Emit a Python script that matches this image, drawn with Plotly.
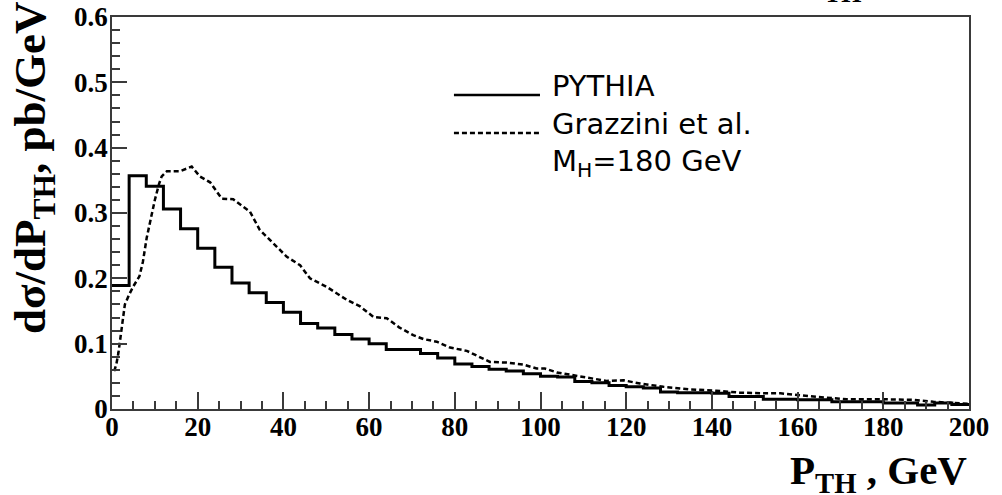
import plotly.graph_objects as go

# ---------------- data ----------------
bin_width = 4
bin_low = list(range(0, 200, bin_width))  # 50 bins from 0 to 200 GeV
pythia = [0.189, 0.357, 0.341, 0.306, 0.276, 0.246, 0.217, 0.193, 0.178, 0.163,
          0.148, 0.131, 0.124, 0.114, 0.107, 0.100, 0.091, 0.091, 0.085, 0.078,
          0.069, 0.065, 0.061, 0.058, 0.054, 0.050, 0.049, 0.042, 0.040, 0.036,
          0.034, 0.032, 0.026, 0.025, 0.025, 0.024, 0.019, 0.019, 0.015, 0.015,
          0.014, 0.014, 0.011, 0.011, 0.011, 0.009, 0.009, 0.006, 0.009, 0.007]

graz_x = [0.5, 1.0, 1.5, 2.0, 3.0, 4.0, 5.0, 6.4, 7.2, 8.1, 9.0, 10.0, 11.0, 11.6,
          12.8, 15.9, 18.6, 20.5, 22.9, 25.6, 28.3, 32.2, 34.5, 37.6, 40.8, 43.9,
          46.2, 50.1, 54.8, 57.9, 61.0, 64.1, 67.0, 70.3, 72.7, 75.8, 78.9, 82.8,
          85.9, 88.2, 92.1, 96.0, 99.1, 101.0, 103.8, 107.7, 111.5, 115.4, 119.3,
          123.2, 128.7, 135.0, 141.0, 146.5, 152.0, 156.0, 163.7, 171.5, 179.2,
          187.0, 191.7, 196.3, 200.0]
graz_y = [0.058, 0.068, 0.086, 0.110, 0.160, 0.175, 0.188, 0.203, 0.225, 0.262,
          0.290, 0.320, 0.345, 0.356, 0.364, 0.364, 0.371, 0.356, 0.347, 0.322,
          0.321, 0.302, 0.274, 0.254, 0.233, 0.220, 0.200, 0.187, 0.167, 0.157,
          0.141, 0.139, 0.125, 0.113, 0.107, 0.103, 0.094, 0.089, 0.079, 0.072,
          0.071, 0.068, 0.062, 0.062, 0.056, 0.052, 0.047, 0.043, 0.044, 0.039,
          0.034, 0.030, 0.028, 0.025, 0.024, 0.024, 0.019, 0.015, 0.015, 0.014,
          0.011, 0.0097, 0.008]

x_ticks = [0, 20, 40, 60, 80, 100, 120, 140, 160, 180, 200]
y_ticks = [0, 0.1, 0.2, 0.3, 0.4, 0.5, 0.6]
y_tick_text = ["0", "0.1", "0.2", "0.3", "0.4", "0.5", "0.6"]

series_names = ["PYTHIA", "Grazzini et al."]
mass_label = "M<sub>H</sub>=180 GeV"

# ---------------- figure ----------------
SERIF = "Liberation Serif"
SANS = "DejaVu Sans"
AX = "#3a3a3a"

hist_x = bin_low + [bin_low[-1] + bin_width]
hist_y = pythia + [pythia[-1]]

fig = go.Figure()
fig.add_trace(go.Scatter(x=hist_x, y=hist_y, mode="lines", line_shape="hv",
                         line=dict(color="black", width=3), name=series_names[0],
                         showlegend=False))
fig.add_trace(go.Scatter(x=graz_x, y=graz_y, mode="lines",
                         line=dict(color="black", width=2.5, dash="5px,3px"),
                         name=series_names[1], showlegend=False))

axis_common = dict(showline=True, linecolor=AX, linewidth=1.5, mirror=True,
                   ticks="inside", tickcolor=AX, tickwidth=1.5, automargin=False,
                   showgrid=False, zeroline=False,
                   tickfont=dict(family=SERIF, size=27, color="black", weight="bold"))

fig.update_xaxes(range=[0, 200], tickvals=x_ticks, ticklen=17, ticklabelstandoff=-7,
                 minor=dict(dtick=5, ticklen=8, ticks="inside", tickcolor=AX, tickwidth=1.5),
                 **axis_common)
fig.update_yaxes(range=[0, 0.6], tickvals=y_ticks, ticktext=y_tick_text,
                 ticklen=15, ticklabelstandoff=-3,
                 minor=dict(dtick=0.02, ticklen=8, ticks="inside", tickcolor=AX, tickwidth=1.5),
                 **axis_common)

# legend (drawn manually, ROOT style)
shapes = [
    dict(type="line", xref="paper", yref="paper", x0=0.399, x1=0.4994, y0=0.801, y1=0.801,
         line=dict(color="black", width=2.5)),
    dict(type="line", xref="paper", yref="paper", x0=0.399, x1=0.4994, y0=0.704, y1=0.704,
         line=dict(color="black", width=2.5, dash="5px,3px")),
]
legend_text = "<br>".join([series_names[0], series_names[1], mass_label])
annotations = [
    dict(text=legend_text, xref="paper", yref="paper", x=0.511, y=0.873,
         xanchor="left", yanchor="top", align="left", showarrow=False,
         font=dict(family=SANS, size=29, color="black")),
    # axis titles
    dict(text="P<sub>TH</sub> , GeV", xref="paper", yref="paper", x=1.0, y=-0.162,
         xanchor="right", yanchor="middle", showarrow=False,
         font=dict(family=SERIF, size=41, color="black", weight="bold")),
    dict(text="dσ/dP<sub>TH</sub>, pb/GeV", xref="paper", yref="paper", x=-0.092, y=0.615,
         xanchor="center", yanchor="middle", textangle=-90, showarrow=False,
         font=dict(family=SERIF, size=45, color="black", weight="bold")),
    # clipped title remnant at top
    dict(text="TH", xref="paper", yref="paper", x=0.853, y=1.018,
         xanchor="center", yanchor="bottom", showarrow=False,
         font=dict(family=SERIF, size=26, color="black", weight="bold")),
]

fig.update_layout(width=1002, height=495, autosize=False,
                  margin=dict(l=112, r=33, t=17, b=86, autoexpand=False),
                  plot_bgcolor="white", paper_bgcolor="white",
                  shapes=shapes, annotations=annotations, showlegend=False)

fig.write_html("out.html", config={"displayModeBar": False},
               post_script="document.body.style.margin='0';")
